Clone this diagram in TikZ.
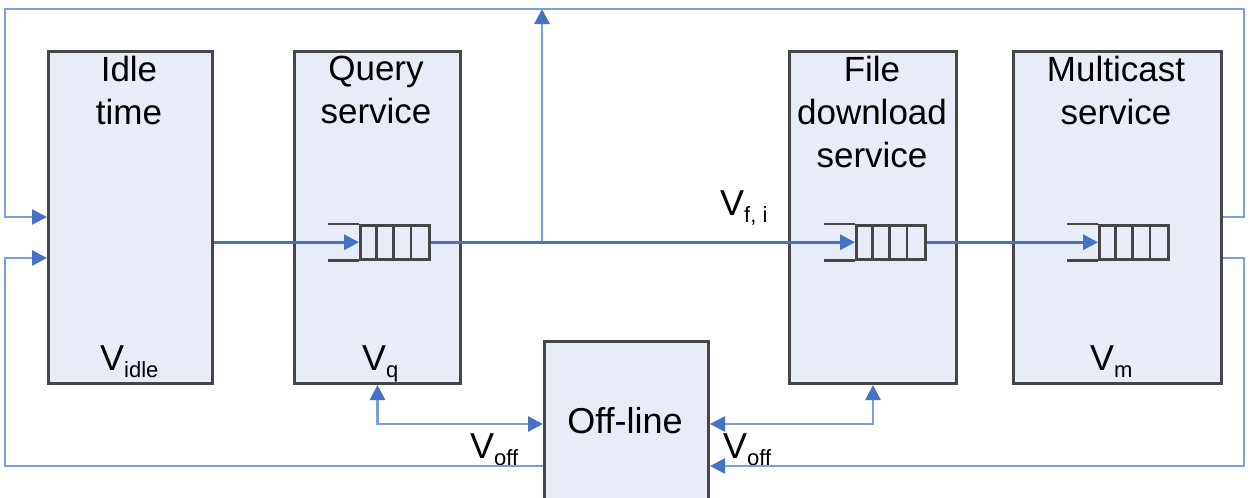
\documentclass[tikz,border=0pt]{standalone}
\usepackage{fontspec}
\setmainfont{Liberation Sans}
\usetikzlibrary{arrows.meta,calc}
\definecolor{boxfill}{RGB}{232,236,246}
\definecolor{boxline}{RGB}{70,70,70}
\definecolor{flow}{RGB}{68,114,196}
\definecolor{loopc}{RGB}{125,158,214}
\newcommand\Vsub[1]{{\fontsize{36}{40}\selectfont V}\raisebox{-7pt}{\fontsize{22}{24}\selectfont #1}}
\begin{document}
\begin{tikzpicture}[x=1pt,y=-1pt,
  blk/.style={draw=boxline, fill=boxfill, line width=3pt, inner sep=0pt, anchor=north west},
  ttl/.style={font=\fontsize{35}{43}\selectfont, align=center, anchor=north, inner sep=0pt},
  lbl/.style={anchor=base west, inner sep=0pt},
  qbox/.style={draw=boxline, line width=2.5pt, minimum width=69pt, minimum height=34pt, inner sep=0pt, anchor=north west},
  qln/.style={draw=boxline, line width=2.5pt},
  mainln/.style={draw=flow, line width=3pt},
  loopln/.style={draw=loopc, line width=2.5pt},
  offln/.style={draw=loopc, line width=2.5pt},
  hd/.style={-{Triangle[length=15pt,width=15pt,fill=flow,color=flow]}},
  hdb/.style={{Triangle[length=15pt,width=15pt,fill=flow,color=flow]}-{Triangle[length=15pt,width=15pt,fill=flow,color=flow]}}
]
\useasboundingbox (0,0) rectangle (1254,498);

% blocks
\node[blk, minimum width=164pt, minimum height=332pt] (idle) at (47,50) {};
\node[blk, minimum width=166pt, minimum height=332pt] (query) at (293,50) {};
\node[blk, minimum width=167pt, minimum height=332pt] (file) at (788,50) {};
\node[blk, minimum width=208pt, minimum height=332pt] (mcast) at (1012,50) {};
\node[blk, minimum width=164pt, minimum height=166pt] (off) at (543,340) {};

% titles
\node[ttl] (tidle) at (129,56) {Idle\\time};
\node[ttl] (tquery) at (376,56) {Query\\service};
\node[ttl] (tfile) at (872,56) {File\\download\\service};
\node[ttl] (tmcast) at (1116,56) {Multicast\\service};
\node[font=\fontsize{36}{43}\selectfont, inner sep=0pt] (toff) at (625,421) {Off-line};

% value labels
\node[lbl] (vidle) at (100,370) {\Vsub{idle}};
\node[lbl] (vq) at (362,370) {\Vsub{q}};
\node[lbl] (vm) at (1090,370) {\Vsub{m}};
\node[lbl] (voffl) at (470,458) {\Vsub{off}};
\node[lbl] (voffr) at (723,458) {\Vsub{off}};
\node[lbl] (vfi) at (720,215) {\Vsub{f, i}};

% queues
\node[qbox] (q1) at (359,224) {};
\node[qbox] (q2) at (855,224) {};
\node[qbox] (q3) at (1098,224) {};
\foreach \q in {q1,q2,q3}{
  \draw[qln] (\q.north west) -- ++(-31,0);
  \draw[qln] (\q.south west) -- ++(-31,0);
  \foreach \k in {17.25,34.5,51.75}
    \draw[qln] ($(\q.north west)+(\k,0)$) -- ($(\q.south west)+(\k,0)$);
}

% coordinates
\coordinate (br) at (542,241);
\coordinate (tl) at (5,9);
\coordinate (tr) at (1244,9);
\coordinate (bl) at (5,466);
\coordinate (brr) at (1244,466);

% main flow
\draw[mainln, hd] (idle.east |- q1.west) -- (q1.west);
\draw[mainln, hd] (q1.east) -- (q2.west);
\draw[mainln, hd] (q2.east) -- (q3.west);
\draw[loopln, hd] (br) -- (br |- tl);

% upper loop
\draw[loopln, hd] (mcast.east |- 0,217) -| (tr) -- (tl) |- (idle.west |- 0,217);
% lower loop
\draw[loopln, hd] (mcast.east |- 0,258) -| (brr) -- (off.east |- 0,466);
\draw[loopln, hd] (off.west |- 0,466) -- (bl) |- (idle.west |- 0,258);

% off-line links
\draw[offln, hdb] (query.south) |- (off.west |- 0,424);
\draw[offln, hdb] (file.south) |- (off.east |- 0,424);
\end{tikzpicture}
\end{document}
